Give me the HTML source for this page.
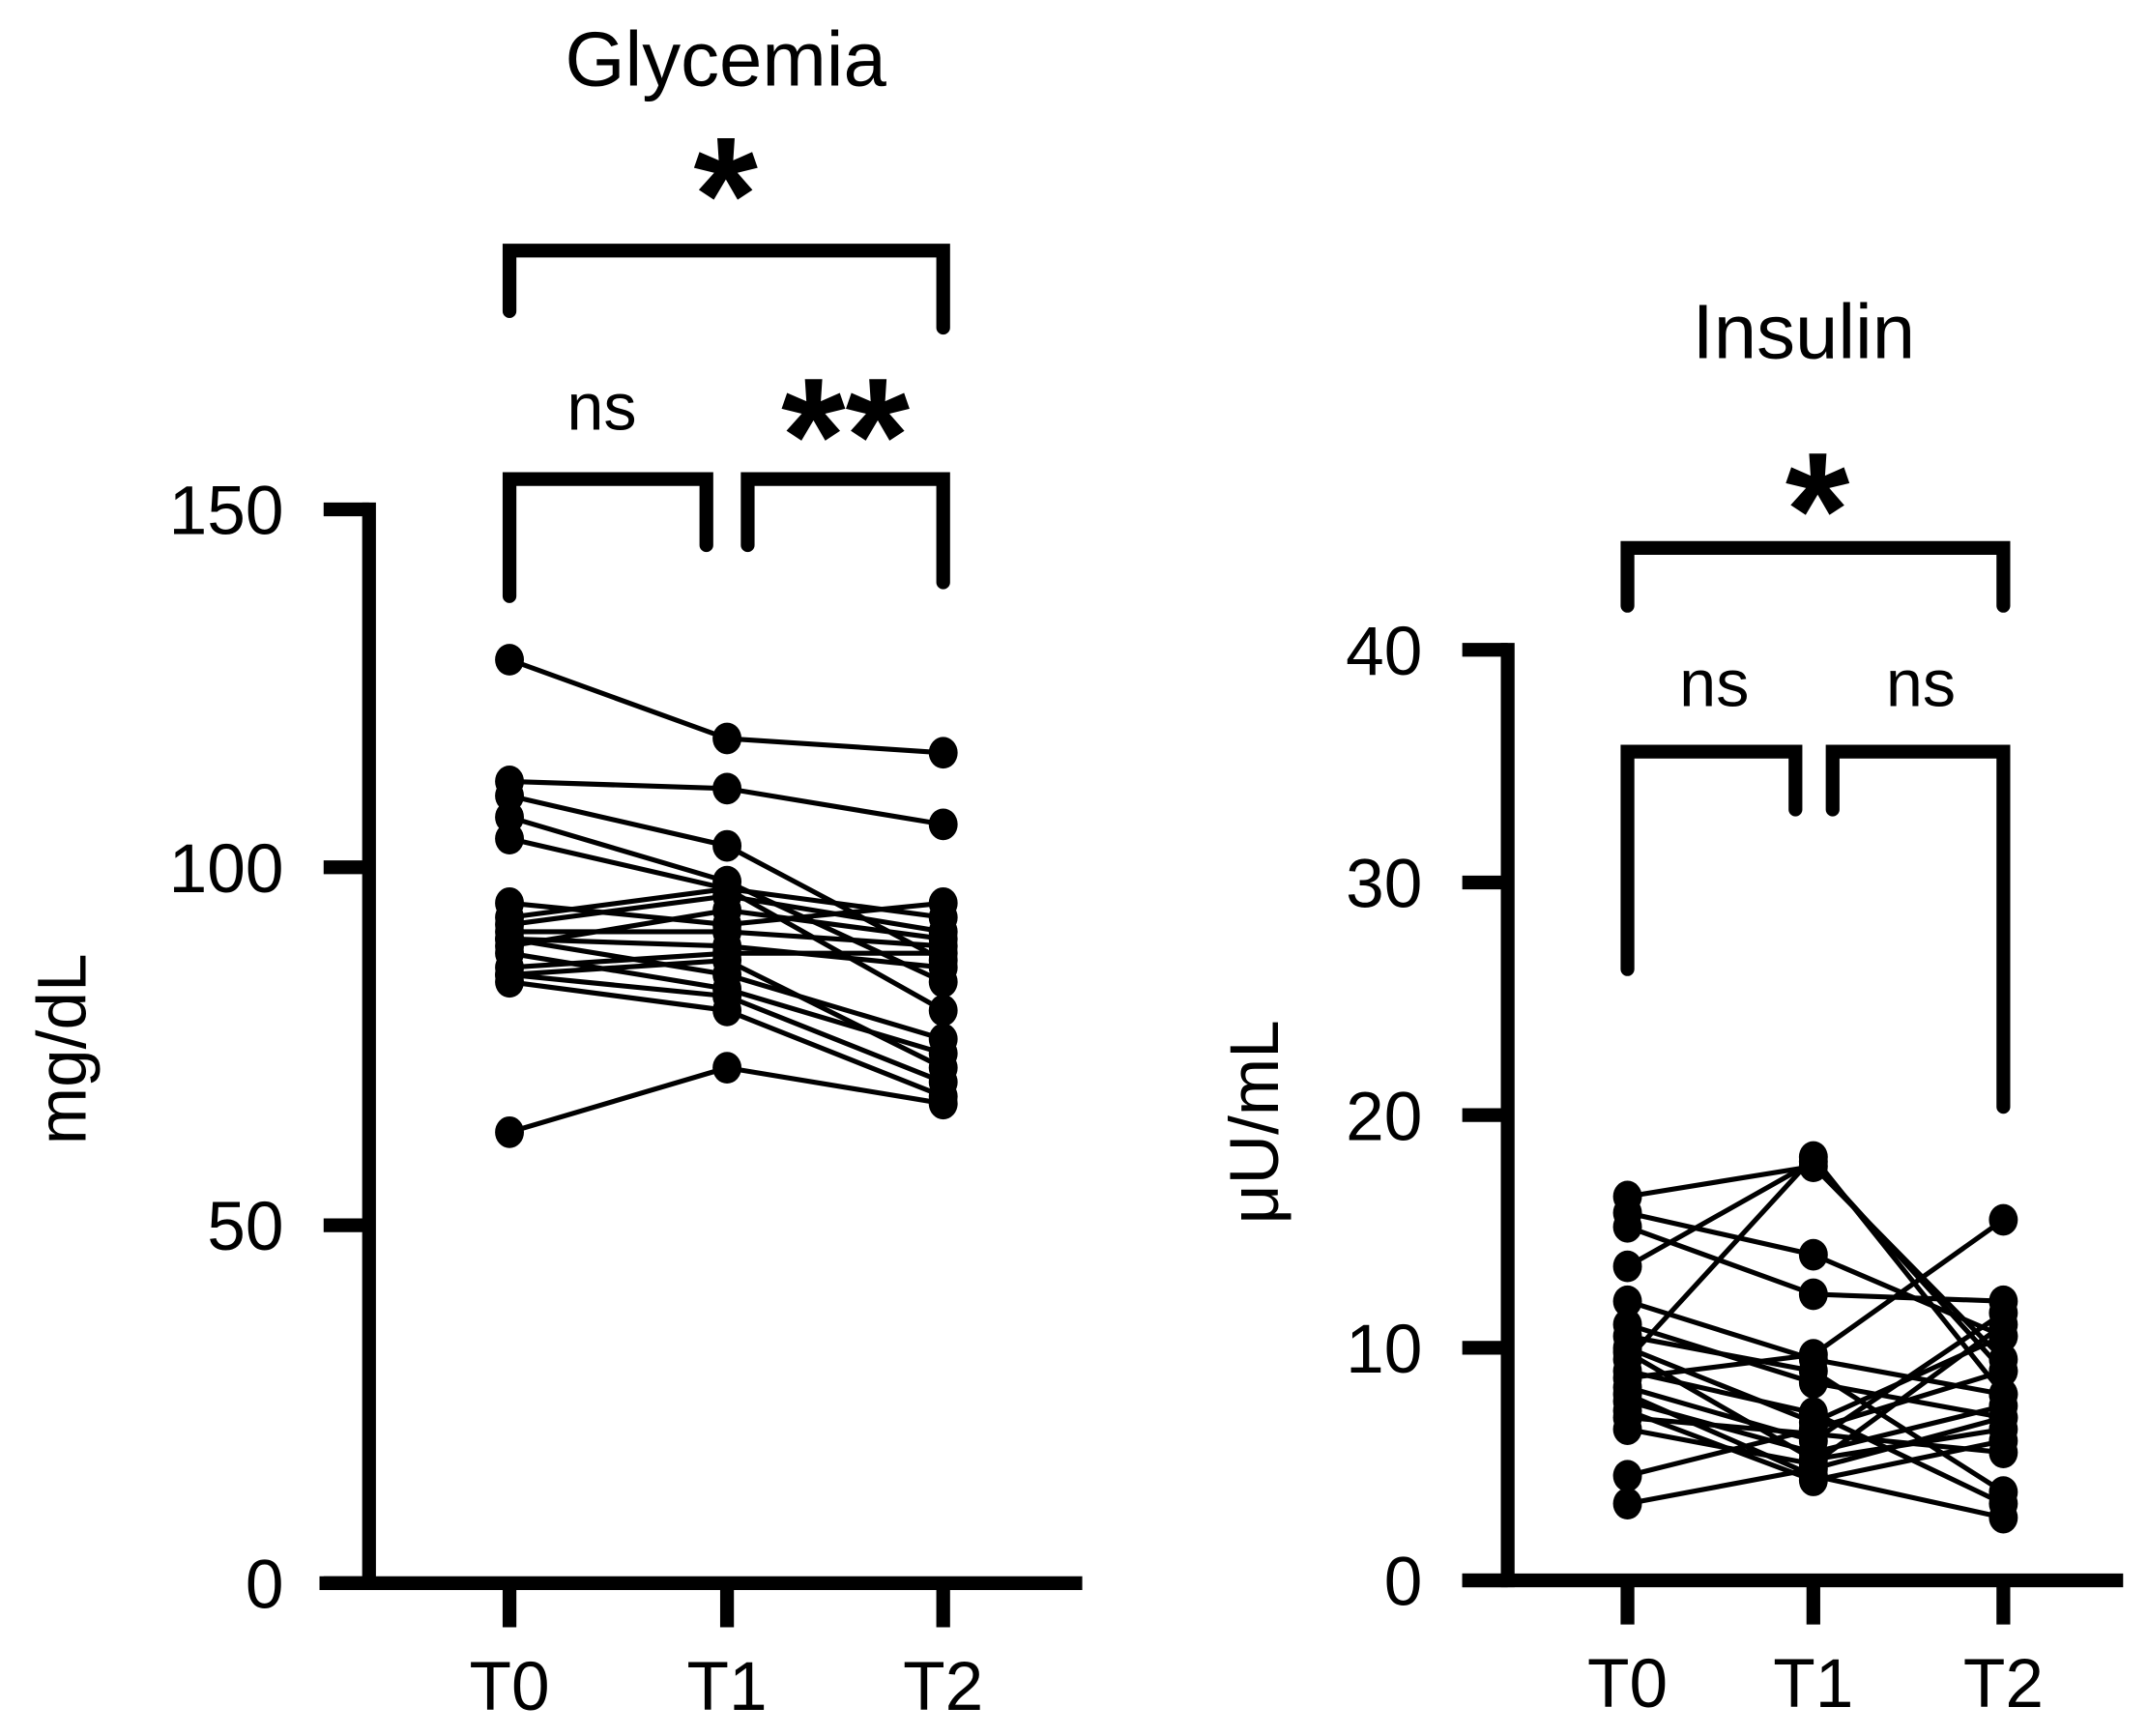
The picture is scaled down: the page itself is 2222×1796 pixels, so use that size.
<!DOCTYPE html>
<html><head><meta charset="utf-8"><style>
html,body{margin:0;padding:0;background:#fff}
svg{display:block}
text{font-family:"Liberation Sans",Arial,sans-serif;fill:#000}
</style></head><body>
<svg id="fig" width="2222" height="1796" viewBox="0 0 1560 1261" xmlns="http://www.w3.org/2000/svg">
<g id="gly"></g>
<g id="ins"></g>
</svg>
<script>
const categories = ["T0","T1","T2"];
const glyTicks = [0,50,100,150];
const glyValues = [
 [129,118,116],[112,111,106],[110,103,87],[107,98,84],[104,97,80],[95,92,95],
 [93,97,93],[92,96,91],[91,91,89],[90,89,86],[90,85,76],[89,94,90],
 [88,83,74],[86,88,88],[85,87,72],[85,82,70],[84,80,68],[63,72,67]
];
const insTicks = [0,10,20,30,40];
const insValues = [
 [16.5,17.8,9.5],[15.8,14,10.5],[15.2,12.3,12],[13.5,18,9],[12,9.5,8],[11,8.5,7],
 [10.5,9,3.8],[10,6.8,10.5],[9.5,18.2,8],[9,7.2,3.3],[8.7,9.7,15.5],[8.3,6,11.5],
 [8,4.5,2.7],[7.7,5.5,7.5],[7.3,4.3,6],[7,6.3,5.5],[6.5,5,11],[4.5,6.5,9],
 [3.3,4.8,7],[9.8,5.2,6.5]
];
const NS="http://www.w3.org/2000/svg";
function mk(parent,tag,attrs,txt){const e=document.createElementNS(NS,tag);for(const k in attrs)e.setAttribute(k,attrs[k]);if(txt!==undefined)e.textContent=txt;parent.appendChild(e);return e;}

function chart(g,o){
  const y=v=>o.y0-(v-o.min)/(o.max-o.min)*(o.y0-o.y1);
  const x=i=>o.xs[i];
  const t=mk(g,'text',{x:o.titleX,y:o.titleY,'font-size':56,'text-anchor':'middle'},o.title);
  
  
  const yt=mk(g,'text',{x:0,y:0,'font-size':50,'text-anchor':'middle',transform:`translate(${o.ytX},${o.ytY}) rotate(-90)`},o.ytitle);
  
  
  const ya=mk(g,'line',{x1:o.ax,y1:y(o.max)-5,x2:o.ax,y2:o.y0+5,stroke:'#000','stroke-width':10});
  
  
  const xa=mk(g,'line',{x1:o.xa0,y1:o.y0,x2:o.xa1,y2:o.y0,stroke:'#000','stroke-width':10});
  
  
  o.ticks.forEach(v=>{
    const tk=mk(g,'line',{x1:o.ax-33,y1:y(v),x2:o.ax,y2:y(v),stroke:'#000','stroke-width':10});
    
    
    const tl=mk(g,'text',{x:o.ax-62,y:y(v)+18,'font-size':50,'text-anchor':'end'},String(v));
    
    
  });
  categories.forEach((c,i)=>{
    const tk=mk(g,'line',{x1:x(i),y1:o.y0,x2:x(i),y2:o.y0+32,stroke:'#000','stroke-width':10});
    
    
    const tl=mk(g,'text',{x:x(i),y:o.y0+92,'font-size':50,'text-anchor':'middle'},c);
    
    
  });
  o.data.forEach(s=>{
    const pts=s.map((v,i)=>x(i)+','+y(v)).join(' ');
    const pl=mk(g,'polyline',{points:pts,fill:'none',stroke:'#000','stroke-width':3.6});
    
    
    s.forEach((v,i)=>{
      const c=mk(g,'ellipse',{cx:x(i),cy:y(v),rx:10.5,ry:11.5,fill:'#000'});
      
      
    });
  });
  o.brackets.forEach(b=>{
    const p=mk(g,'path',{d:`M${b.x1},${b.l1} V${b.y} H${b.x2} V${b.l2}`,fill:'none',stroke:'#000','stroke-width':10,'stroke-linecap':'round','stroke-linejoin':'miter'});
    
    
    const lb=b.star?
      mk(g,'text',{x:b.tx,y:b.ty,'font-size':120,'font-weight':'bold','text-anchor':'middle'},b.label):
      mk(g,'text',{x:b.tx,y:b.ty,'font-size':48,'text-anchor':'middle'},b.label);
    
    
  });
}

chart(document.getElementById('gly'),{
  title:'Glycemia',titleX:527,titleY:62,ytitle:'mg/dL',ytX:62,ytY:762,
  min:0,max:150,y0:1150,y1:370,ax:268,xa0:232,xa1:786,xs:[370,528,685],
  ticks:glyTicks,data:glyValues,
  brackets:[
    {x1:370,x2:685,y:182,l1:226,l2:238,tx:527,ty:183,label:'*',star:true},
    {x1:370,x2:513,y:348,l1:433,l2:396,tx:437,ty:312,label:'ns'},
    {x1:543,x2:685,y:348,l1:396,l2:423,tx:614,ty:358,label:'**',star:true}
  ]
});
chart(document.getElementById('ins'),{
  title:'Insulin',titleX:1310,titleY:260,ytitle:'μU/mL',ytX:928,ytY:815,
  min:0,max:40,y0:1148,y1:472,ax:1095,xa0:1062,xa1:1542,xs:[1182,1317,1455],
  ticks:insTicks,data:insValues,
  brackets:[
    {x1:1182,x2:1455,y:398,l1:440,l2:440,tx:1320,ty:412,label:'*',star:true},
    {x1:1182,x2:1304,y:546,l1:704,l2:588,tx:1245,ty:513,label:'ns'},
    {x1:1331,x2:1455,y:546,l1:588,l2:804,tx:1395,ty:513,label:'ns'}
  ]
});
</script>
</body></html>
